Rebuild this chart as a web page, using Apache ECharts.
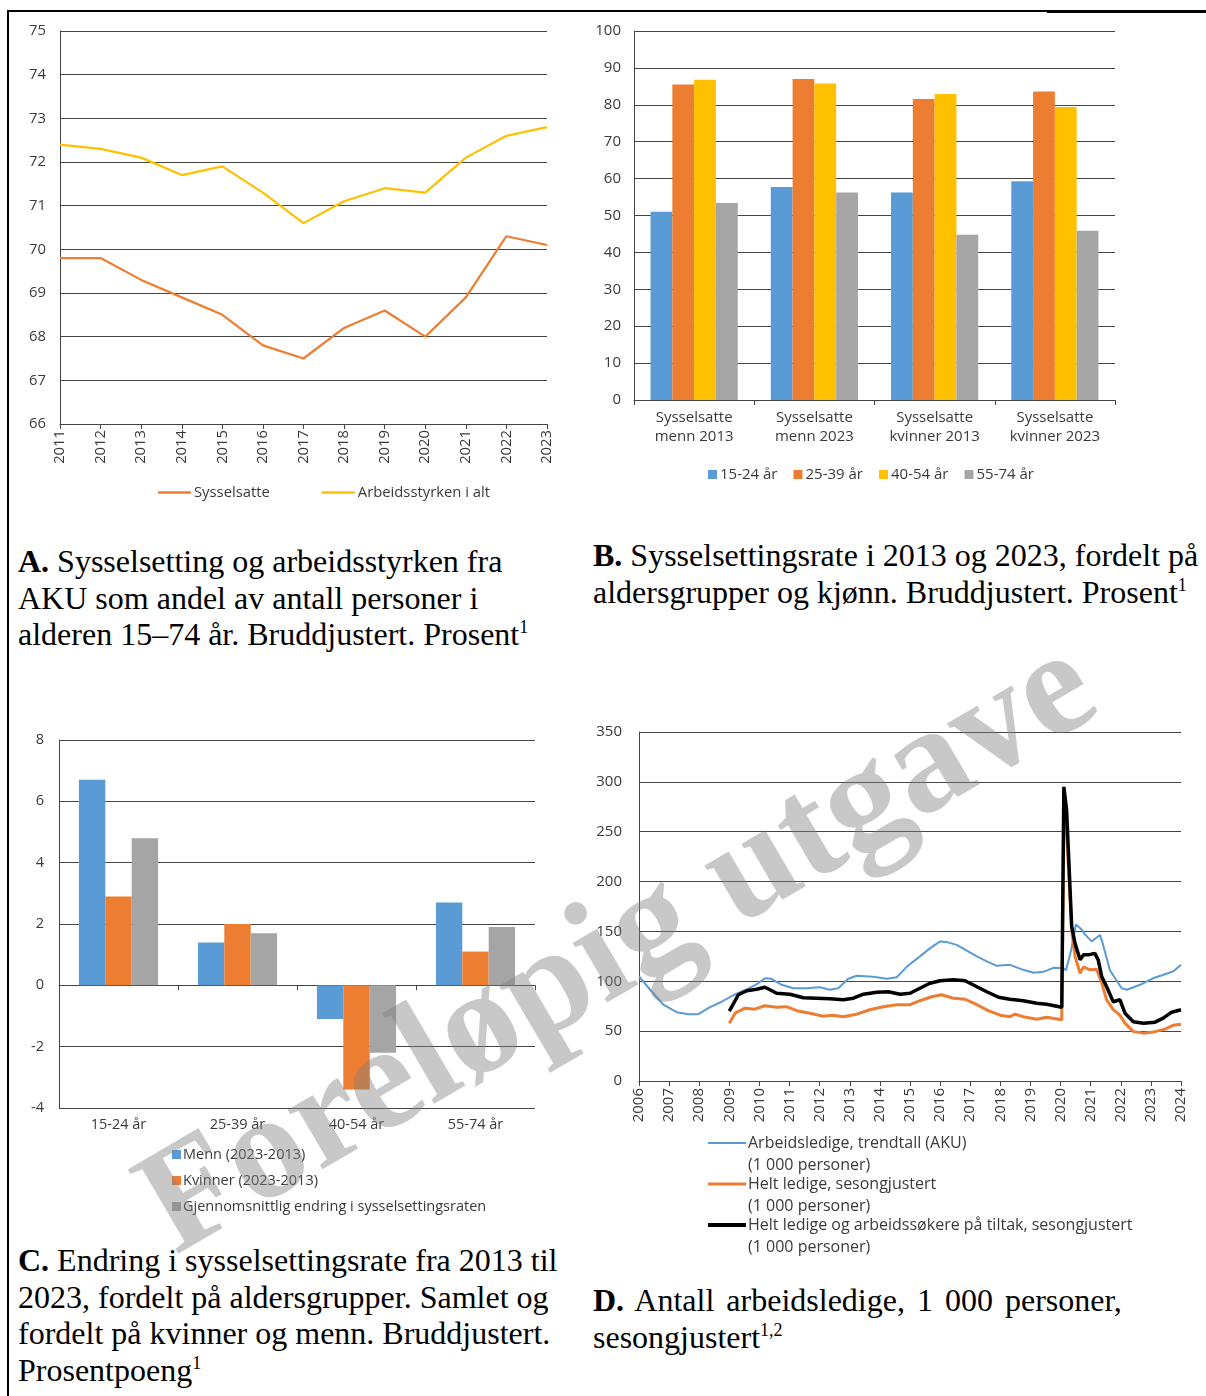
<!DOCTYPE html>
<html>
<head>
<meta charset="utf-8">
<script src="https://cdn.jsdelivr.net/npm/echarts@6/dist/echarts.min.js"></script>
<style>
  html, body { margin:0; padding:0; background:#fff; }
  #wrap { position:relative; width:1206px; height:1396px; overflow:hidden; }
  #chart { position:absolute; left:0; top:0; width:1206px; height:1396px; }
  .cap { position:absolute; font-family:"Liberation Serif","Times New Roman",serif; font-size:32px; line-height:36.5px; color:#000; white-space:nowrap; }
  .cap sup { font-size:18px; vertical-align:12px; line-height:0; }
  .bline { position:absolute; background:#000; }
</style>
</head>
<body>
<div id="wrap">
  <div class="bline" style="left:7px;top:10px;width:1199px;height:2px;"></div>
  <div class="bline" style="left:1047px;top:10px;width:159px;height:3px;"></div>
  <div class="bline" style="left:7px;top:10px;width:2px;height:1386px;"></div>
  <div class="cap" style="left:18px;top:543px;"><b>A.</b> Sysselsetting og arbeidsstyrken fra<br>AKU som andel av antall personer i<br>alderen 15–74 år. Bruddjustert. Prosent<sup>1</sup></div>
  <div class="cap" style="left:593px;top:537px;"><b>B.</b> Sysselsettingsrate i 2013 og 2023, fordelt på<br>aldersgrupper og kjønn. Bruddjustert. Prosent<sup>1</sup></div>
  <div class="cap" style="left:18px;top:1242px;"><b>C.</b> Endring i sysselsettingsrate fra 2013 til<br>2023, fordelt på aldersgrupper. Samlet og<br>fordelt på kvinner og menn. Bruddjustert.<br>Prosentpoeng<sup>1</sup></div>
  <div class="cap" style="left:593px;top:1282px;word-spacing:4px;"><b>D.</b> Antall arbeidsledige, 1 000 personer,<br>sesongjustert<sup>1,2</sup></div>
  <div id="chart"></div>
</div>
<script>
// ---------- Panel A ----------
const yearsA = ['2011','2012','2013','2014','2015','2016','2017','2018','2019','2020','2021','2022','2023'];
const sysselsatteA = [69.8, 69.8, 69.3, 68.9, 68.5, 67.8, 67.5, 68.2, 68.6, 68.0, 68.9, 70.3, 70.1];
const arbeidsstyrkenA = [72.4, 72.3, 72.1, 71.7, 71.9, 71.3, 70.6, 71.1, 71.4, 71.3, 72.1, 72.6, 72.8];

// ---------- Panel B ----------
const groupsB = ['Sysselsatte\nmenn 2013', 'Sysselsatte\nmenn 2023', 'Sysselsatte\nkvinner 2013', 'Sysselsatte\nkvinner 2023'];
const age1524B = [51.0, 57.7, 56.2, 59.3];
const age2539B = [85.5, 87.0, 81.6, 83.6];
const age4054B = [86.8, 85.8, 82.9, 79.4];
const age5574B = [53.4, 56.2, 44.8, 45.9];

// ---------- Panel C ----------
const agesC = ['15-24 år', '25-39 år', '40-54 år', '55-74 år'];
const mennC = [6.7, 1.4, -1.1, 2.7];
const kvinnerC = [2.9, 2.0, -3.4, 1.1];
const snittC = [4.8, 1.7, -2.2, 1.9];

// ---------- Panel D ----------
const arbeidsledigeD = [[2006.0,105],[2006.37,91.5],[2006.81,76.5],[2007.25,69],[2007.64,67],[2007.97,67],[2008.36,74],[2008.75,79.5],[2009.13,86],[2009.58,92],[2009.96,98],[2010.18,103],[2010.4,102.5],[2010.74,96.5],[2011.12,93],[2011.57,93],[2012.01,94],[2012.34,91.5],[2012.62,93],[2012.95,102.5],[2013.23,105.5],[2013.78,104.5],[2014.23,102.5],[2014.56,104],[2014.89,114.5],[2015.33,125],[2015.66,133],[2016.0,140],[2016.2,139.5],[2016.55,136.5],[2017.22,125],[2017.55,120],[2017.88,115.5],[2018.32,116.5],[2018.76,111.5],[2019.1,108.5],[2019.43,109.5],[2019.76,113.5],[2020.1,113],[2020.18,111],[2020.35,131],[2020.51,157],[2020.7,152],[2020.81,147],[2021.03,140],[2021.31,146.5],[2021.4,138],[2021.64,111],[2022.03,93],[2022.2,91.5],[2022.64,96.5],[2023.07,103],[2023.52,107.5],[2023.75,110],[2024.0,116.5]];
const heltLedigeD = [[2009.0,58],[2009.19,68],[2009.52,73],[2009.85,72],[2010.18,75.5],[2010.57,74],[2010.9,74.5],[2011.24,70.5],[2011.68,68],[2012.12,65],[2012.45,66],[2012.78,64.5],[2013.23,67],[2013.67,71.5],[2014.11,74.5],[2014.56,76.5],[2015.0,76.5],[2015.33,80.5],[2015.72,84.5],[2016.05,86.5],[2016.44,83],[2016.83,82],[2017.22,76.5],[2017.6,70.5],[2017.99,66],[2018.32,64.5],[2018.49,67],[2018.76,64.5],[2019.21,62],[2019.54,64],[2020.04,61.5],[2020.11,270],[2020.2,250],[2020.37,151.5],[2020.48,125],[2020.65,108],[2020.76,114.5],[2020.98,111.5],[2021.2,112],[2021.37,98],[2021.53,81.5],[2021.75,71.5],[2021.97,66],[2022.14,58],[2022.42,49.5],[2022.75,48],[2023.14,49.5],[2023.47,52],[2023.75,56],[2024.0,57]];
const tiltakD = [[2009.0,70],[2009.3,86.5],[2009.58,90.5],[2009.91,92],[2010.18,94],[2010.35,91.5],[2010.57,88],[2011.01,87],[2011.46,83.5],[2011.9,83],[2012.34,82.5],[2012.78,81.5],[2013.12,83],[2013.45,87],[2013.9,89],[2014.28,89.5],[2014.67,87],[2015.0,88],[2015.33,93],[2015.66,98],[2016.0,100.5],[2016.44,101.5],[2016.83,100.5],[2017.22,94.5],[2017.55,89.5],[2017.94,84],[2018.32,82],[2018.76,80.5],[2019.21,78],[2019.54,77],[2020.04,74],[2020.11,295],[2020.2,272],[2020.37,155],[2020.48,138],[2020.65,121.5],[2020.76,126.5],[2020.92,126.5],[2021.14,128],[2021.25,121.5],[2021.37,104.5],[2021.53,94.5],[2021.75,79.5],[2021.97,81.5],[2022.14,68],[2022.42,59.5],[2022.75,58],[2023.14,59],[2023.41,63],[2023.69,69],[2024.0,71.5]];
const legendD = ['Arbeidsledige, trendtall (AKU)', 'Helt ledige, sesongjustert', 'Helt ledige og arbeidssøkere på tiltak, sesongjustert'];
const legendUnitD = '(1 000 personer)';

const FONT = '"Open Sans", "Noto Sans", sans-serif';
const TXT = '#3a3a3a';
const GRID = '#454545';
const BLUE = '#5B9BD5', ORANGE = '#ED7D31', YELLOW = '#FFC000', GRAY = '#A5A5A5';

const lbl = (size, extra) => Object.assign({ color: TXT, fontFamily: FONT, fontSize: size }, extra || {});
const split = { show: true, lineStyle: { color: GRID, width: 1 } };
const axLine = { show: true, lineStyle: { color: GRID, width: 1 } };

const chart = echarts.init(document.getElementById('chart'), null, { renderer: 'canvas' });

const dLegendGraphics = [];
const dCols = [BLUE, ORANGE, '#000'];
const dW = [2, 3, 4];
const dY = [1143, 1184, 1225];
for (let i = 0; i < 3; i++) {
  dLegendGraphics.push({ type: 'line', shape: { x1: 708, y1: dY[i], x2: 746, y2: dY[i] }, style: { stroke: dCols[i], lineWidth: dW[i] } });
  dLegendGraphics.push({ type: 'text', x: 748, y: dY[i], style: { text: legendD[i], font: '16px ' + FONT, fill: TXT, textVerticalAlign: 'middle', verticalAlign: 'middle' } });
  dLegendGraphics.push({ type: 'text', x: 748, y: dY[i] + 22, style: { text: legendUnitD, font: '16px ' + FONT, fill: TXT, textVerticalAlign: 'middle', verticalAlign: 'middle' } });
}

const option = {
  animation: false,
  textStyle: { fontFamily: FONT },
  grid: [
    { left: 60, top: 31, width: 487, height: 393 },
    { left: 634, top: 31, width: 481, height: 369 },
    { left: 59, top: 740, width: 476, height: 368 },
    { left: 639, top: 732, width: 542, height: 349 }
  ],
  legend: [
    { data: ['Sysselsatte', 'Arbeidsstyrken i alt'], left: 153, top: 480, icon: 'rect', itemWidth: 33, itemHeight: 2.5, itemGap: 52, textStyle: lbl(14.8, { padding: [0,0,0,-2] }), selectedMode: false },
    { data: ['15-24 år', '25-39 år', '40-54 år', '55-74 år'], left: 703, top: 462, icon: 'rect', itemWidth: 9, itemHeight: 9, itemGap: 16, textStyle: lbl(15, { padding: [0,0,0,-2] }), selectedMode: false },
    { data: ['Menn (2023-2013)', 'Kvinner (2023-2013)', 'Gjennomsnittlig endring i sysselsettingsraten'], orient: 'vertical', left: 167, top: 1141, icon: 'rect', itemWidth: 9, itemHeight: 9, itemGap: 9, textStyle: lbl(14.5, { lineHeight: 17, padding: [0,0,0,-3] }), selectedMode: false }
  ],
  xAxis: [
    { gridIndex: 0, type: 'category', data: yearsA, boundaryGap: false, axisLine: axLine, axisTick: { show: true, length: 5, lineStyle: { color: GRID } }, axisLabel: lbl(14.8, { rotate: 90, margin: 6 }), splitLine: { show: false } },
    { gridIndex: 1, type: 'category', data: groupsB, axisLine: axLine, axisTick: { show: true, length: 5, lineStyle: { color: GRID } }, axisLabel: lbl(15, { margin: 8, lineHeight: 19 }), splitLine: { show: false } },
    { gridIndex: 2, type: 'category', data: agesC, position: 'bottom', axisLine: { show: false, onZero: false }, axisTick: { show: false }, axisLabel: lbl(14.5, { margin: 9 }), splitLine: { show: false } },
    { gridIndex: 2, type: 'category', data: agesC, position: 'bottom', axisLine: { show: true, onZero: true, lineStyle: { color: GRID, width: 1 } }, axisTick: { show: true, length: 5, lineStyle: { color: GRID } }, axisLabel: { show: false }, splitLine: { show: false } },
    { gridIndex: 3, type: 'value', min: 2006, max: 2024, interval: 1, axisLine: { show: true, onZero: false, lineStyle: { color: GRID } }, axisTick: { show: true, length: 5, lineStyle: { color: GRID } }, axisLabel: lbl(15, { rotate: 90, margin: 7, formatter: (v) => String(v) }), splitLine: { show: false } }
  ],
  yAxis: [
    { gridIndex: 0, type: 'value', min: 66, max: 75, interval: 1, axisLine: axLine, axisTick: { show: false }, axisLabel: lbl(14.8, { margin: 14 }), splitLine: split },
    { gridIndex: 1, type: 'value', min: 0, max: 100, interval: 10, axisLine: axLine, axisTick: { show: false }, axisLabel: lbl(15, { margin: 13 }), splitLine: split },
    { gridIndex: 2, type: 'value', min: -4, max: 8, interval: 2, axisLine: axLine, axisTick: { show: false }, axisLabel: lbl(14.5, { margin: 15 }), splitLine: split },
    { gridIndex: 3, type: 'value', min: 0, max: 350, interval: 50, axisLine: axLine, axisTick: { show: false }, axisLabel: lbl(15, { margin: 17 }), splitLine: split }
  ],
  series: [
    { name: 'Sysselsatte', type: 'line', xAxisIndex: 0, yAxisIndex: 0, data: sysselsatteA, symbol: 'none', lineStyle: { color: ORANGE, width: 2.2 }, itemStyle: { color: ORANGE } },
    { name: 'Arbeidsstyrken i alt', type: 'line', xAxisIndex: 0, yAxisIndex: 0, data: arbeidsstyrkenA, symbol: 'none', lineStyle: { color: YELLOW, width: 2.2 }, itemStyle: { color: YELLOW } },

    { name: '15-24 år', type: 'bar', xAxisIndex: 1, yAxisIndex: 1, data: age1524B, itemStyle: { color: BLUE }, barGap: '0%', barCategoryGap: '27.5%' },
    { name: '25-39 år', type: 'bar', xAxisIndex: 1, yAxisIndex: 1, data: age2539B, itemStyle: { color: ORANGE }, barGap: '0%', barCategoryGap: '27.5%' },
    { name: '40-54 år', type: 'bar', xAxisIndex: 1, yAxisIndex: 1, data: age4054B, itemStyle: { color: YELLOW }, barGap: '0%', barCategoryGap: '27.5%' },
    { name: '55-74 år', type: 'bar', xAxisIndex: 1, yAxisIndex: 1, data: age5574B, itemStyle: { color: GRAY }, barGap: '0%', barCategoryGap: '27.5%' },

    { name: 'Menn (2023-2013)', type: 'bar', xAxisIndex: 2, yAxisIndex: 2, data: mennC, itemStyle: { color: BLUE }, barGap: '0%', barCategoryGap: '33.5%' },
    { name: 'Kvinner (2023-2013)', type: 'bar', xAxisIndex: 2, yAxisIndex: 2, data: kvinnerC, itemStyle: { color: ORANGE }, barGap: '0%', barCategoryGap: '33.5%' },
    { name: 'Gjennomsnittlig endring i sysselsettingsraten', type: 'bar', xAxisIndex: 2, yAxisIndex: 2, data: snittC, itemStyle: { color: GRAY }, barGap: '0%', barCategoryGap: '33.5%' },

    { name: legendD[0], type: 'line', xAxisIndex: 4, yAxisIndex: 3, data: arbeidsledigeD, symbol: 'none', lineStyle: { color: BLUE, width: 2 }, z: 3 },
    { name: legendD[1], type: 'line', xAxisIndex: 4, yAxisIndex: 3, data: heltLedigeD, symbol: 'none', lineStyle: { color: ORANGE, width: 3 }, z: 4 },
    { name: legendD[2], type: 'line', xAxisIndex: 4, yAxisIndex: 3, data: tiltakD, symbol: 'none', lineStyle: { color: '#000', width: 3.5 }, z: 5 }
  ],
  graphic: dLegendGraphics.concat([
    { type: 'text', x: 620, y: 950, rotation: 0.53, z: 200, silent: true,
      style: { text: 'Foreløpig utgave', font: 'bold 150px "Liberation Serif", serif', fill: 'rgba(128,128,128,0.43)', textAlign: 'center', textVerticalAlign: 'middle', align: 'center', verticalAlign: 'middle' } }
  ])
};
chart.setOption(option);
</script>
</body>
</html>
